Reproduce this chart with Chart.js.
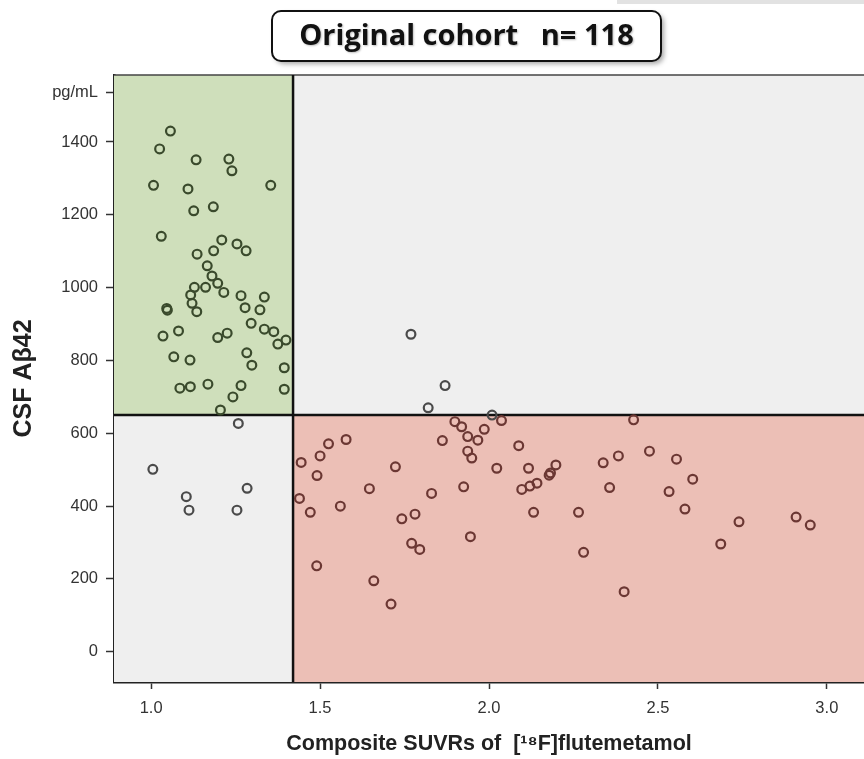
<!DOCTYPE html>
<html lang="en">
<head>
    <meta charset="UTF-8">
    <meta name="viewport" content="width=device-width, initial-scale=1.0">
    <title>Original cohort</title>
    <style>
        body {
            margin: 0;
            background: #fff;
        }
        #wrap {
            position: relative;
            width: 864px;
            height: 759px;
        }
    </style>
</head>
<body>
    <div id="wrap">
        <canvas id="cohortChart"></canvas>
    </div>

    <script src="https://cdn.jsdelivr.net/npm/chart.js"></script>
    <script>
        // cut-offs that split the plot into four quadrants
        const suvrCutoff = 1.42;
        const csfCutoff = 650;

        const xTickValues = [1.0, 1.5, 2.0, 2.5, 3.0];
        const yTickValues = [0, 200, 400, 600, 800, 1000, 1200, 1400];
        const unitTickValue = 1536; // "pg/mL" sits above the 1400 tick
        const unitLabel = 'pg/mL';

        const titleText = 'Original cohort   n= 118';
        const xTitle = 'Composite SUVRs of  [\u00B9\u2078F]flutemetamol';
        const yTitle = 'CSF A\u03B242';

        // top-left quadrant (green): low SUVR, normal CSF
        const greenSuvr = [1.057, 1.025, 1.133, 1.230, 1.239, 1.007, 1.109, 1.354, 1.126, 1.184,
            1.030, 1.209, 1.254, 1.136, 1.185, 1.281, 1.166, 1.180, 1.197, 1.128,
            1.161, 1.215, 1.117, 1.121, 1.046, 1.048, 1.135, 1.266, 1.278, 1.335,
            1.322, 1.296, 1.081, 1.035, 1.197, 1.225, 1.335, 1.363, 1.375, 1.399,
            1.067, 1.115, 1.283, 1.298, 1.394, 1.085, 1.116, 1.168, 1.266, 1.394,
            1.242, 1.205];
        const greenCsf = [1430, 1381, 1351, 1353, 1321, 1281, 1271, 1281, 1211, 1222,
            1141, 1131, 1120, 1092, 1101, 1101, 1060, 1032, 1012, 1001,
            1001, 987, 980, 957, 943, 938, 934, 978, 945, 974,
            939, 902, 881, 867, 863, 875, 886, 879, 845, 856,
            810, 801, 821, 787, 780, 724, 728, 735, 731, 721,
            700, 664];

        // bottom-left quadrant (grey): low SUVR, low CSF
        const lowLeftSuvr = [1.258, 1.005, 1.104, 1.112, 1.284, 1.254];
        const lowLeftCsf = [627, 501, 426, 389, 449, 389];

        // top-right quadrant (grey): high SUVR, normal CSF
        const highRightSuvr = [1.769, 1.870, 1.820, 2.009];
        const highRightCsf = [872, 731, 670, 650];

        // bottom-right quadrant (red): high SUVR, low CSF
        const redSuvr = [1.899, 1.919, 1.986, 1.937, 1.967, 1.862, 1.577, 1.525, 1.500, 1.444,
            1.937, 1.949, 1.723, 1.491, 1.646, 1.830, 1.925, 1.439, 1.471, 1.560,
            1.781, 1.742, 1.945, 1.771, 1.795, 1.490, 1.659, 1.710, 2.037, 2.428,
            2.088, 2.023, 2.117, 2.198, 2.178, 2.182, 2.142, 2.121, 2.097, 2.132,
            2.265, 2.280, 2.400, 2.338, 2.383, 2.357, 2.475, 2.555, 2.533, 2.603,
            2.580, 2.740, 2.686, 2.909, 2.951];
        const redCsf = [632, 618, 611, 591, 581, 580, 583, 571, 538, 520,
            551, 532, 508, 484, 448, 435, 453, 421, 383, 400,
            378, 365, 316, 298, 281, 236, 195, 131, 635, 637,
            566, 504, 504, 513, 485, 491, 463, 455, 446, 383,
            383, 273, 165, 519, 538, 451, 551, 529, 440, 474,
            392, 357, 296, 370, 348];

        function toPoints(xs, ys) {
            return xs.map((x, i) => ({ x: x, y: ys[i] }));
        }

        function pointSet(label, xs, ys, color) {
            return {
                label: label,
                data: toPoints(xs, ys),
                pointRadius: 4.4,
                pointHoverRadius: 4.4,
                pointBorderWidth: 2.2,
                pointBackgroundColor: 'rgba(0,0,0,0)',
                pointBorderColor: color,
                showLine: false
            };
        }

        // quadrant backgrounds, cut-off lines and the frame
        const quadrantPlugin = {
            id: 'quadrants',
            beforeDatasetsDraw(chart) {
                const { ctx, chartArea: a, scales: { x, y } } = chart;
                const cx = x.getPixelForValue(suvrCutoff);
                const cy = y.getPixelForValue(csfCutoff);
                ctx.save();
                ctx.fillStyle = '#efefef';
                ctx.fillRect(a.left, a.top, a.width, a.height);
                ctx.fillStyle = '#cfdfbb';
                ctx.fillRect(a.left, a.top, cx - a.left, cy - a.top);
                ctx.fillStyle = '#ecbfb6';
                ctx.fillRect(cx, cy, a.right - cx, a.bottom - cy);

                ctx.strokeStyle = '#444';
                ctx.lineWidth = 1.5;
                ctx.beginPath();
                ctx.moveTo(a.left, a.top);
                ctx.lineTo(a.right, a.top);
                ctx.stroke();

                ctx.strokeStyle = '#111';
                ctx.lineWidth = 2.5;
                ctx.beginPath();
                ctx.moveTo(cx, a.top);
                ctx.lineTo(cx, a.bottom);
                ctx.moveTo(a.left, cy);
                ctx.lineTo(a.right, cy);
                ctx.stroke();
                ctx.restore();
            }
        };

        // boxed title above the plot
        const titleBoxPlugin = {
            id: 'titleBox',
            afterDraw(chart) {
                const ctx = chart.ctx;
                ctx.save();
                // faint grey strip at the top right of the figure
                ctx.fillStyle = '#e2e2e2';
                ctx.fillRect(617, 0, 247, 4);

                const bx = 272, by = 11, bw = 389, bh = 50, r = 9;
                ctx.shadowColor = 'rgba(0,0,0,0.35)';
                ctx.shadowBlur = 5;
                ctx.shadowOffsetX = 3;
                ctx.shadowOffsetY = 3;
                ctx.beginPath();
                ctx.roundRect(bx, by, bw, bh, r);
                ctx.fillStyle = '#fff';
                ctx.fill();
                ctx.shadowColor = 'transparent';
                ctx.lineWidth = 2;
                ctx.strokeStyle = '#111';
                ctx.stroke();

                ctx.font = 'bold 29px "Open Sans", "DejaVu Sans", sans-serif';
                ctx.fillStyle = '#111';
                ctx.textAlign = 'center';
                ctx.textBaseline = 'middle';
                ctx.shadowColor = 'rgba(0,0,0,0.25)';
                ctx.shadowBlur = 2;
                ctx.shadowOffsetX = 1;
                ctx.shadowOffsetY = 1;
                ctx.fillText(titleText, bx + bw / 2, by + bh / 2 + 1);
                ctx.restore();
            }
        };

        const ctx = document.getElementById('cohortChart').getContext('2d');
        const cohortChart = new Chart(ctx, {
            type: 'scatter',
            data: {
                datasets: [
                    pointSet('Low SUVR / normal CSF', greenSuvr, greenCsf, '#3a4a2c'),
                    pointSet('Low SUVR / low CSF', lowLeftSuvr, lowLeftCsf, '#4a4a4a'),
                    pointSet('High SUVR / normal CSF', highRightSuvr, highRightCsf, '#4a4a4a'),
                    pointSet('High SUVR / low CSF', redSuvr, redCsf, '#6b3733')
                ]
            },
            options: {
                responsive: true,
                maintainAspectRatio: false,
                animation: false,
                layout: {
                    autoPadding: false, // plot runs right up to the edge
                    padding: { top: 75, right: 0, bottom: 0, left: 0 }
                },
                plugins: {
                    legend: { display: false },
                    tooltip: { enabled: false }
                },
                scales: {
                    x: {
                        type: 'linear',
                        min: 0.89,
                        max: 3.11,
                        afterBuildTicks: scale => {
                            scale.ticks = xTickValues.map(v => ({ value: v }));
                        },
                        afterFit: scale => {
                            scale.height = 77;
                            scale.paddingLeft = 0;
                            scale.paddingRight = 0;
                        },
                        ticks: {
                            padding: 10,
                            color: '#333',
                            font: { family: '"Liberation Sans", Arial, sans-serif', size: 16.5 },
                            callback: v => v.toFixed(1)
                        },
                        grid: {
                            drawOnChartArea: false,
                            tickLength: 7,
                            tickWidth: 1.5,
                            tickColor: '#333'
                        },
                        border: { color: '#222', width: 2.5 },
                        title: {
                            display: true,
                            text: xTitle,
                            color: '#222',
                            padding: { top: 0, bottom: 2 },
                            font: { family: '"Liberation Sans", Arial, sans-serif', size: 21.5, weight: 'bold' }
                        }
                    },
                    y: {
                        type: 'linear',
                        min: -83,
                        max: 1584,
                        afterBuildTicks: scale => {
                            scale.ticks = yTickValues.concat([unitTickValue]).map(v => ({ value: v }));
                        },
                        afterFit: scale => {
                            scale.width = 114;
                            scale.paddingTop = 0;
                            scale.paddingBottom = 0;
                        },
                        ticks: {
                            padding: 8,
                            color: '#333',
                            font: { family: '"Liberation Sans", Arial, sans-serif', size: 16.5 },
                            callback: v => (v === unitTickValue ? unitLabel : v)
                        },
                        grid: {
                            drawOnChartArea: false,
                            tickLength: 8,
                            tickWidth: 1.5,
                            tickColor: '#333'
                        },
                        border: { color: '#222', width: 2.5 },
                        title: {
                            display: true,
                            text: yTitle,
                            color: '#222',
                            padding: { top: 9, bottom: 0 },
                            font: { family: '"Liberation Sans", Arial, sans-serif', size: 25, weight: 'bold' }
                        }
                    }
                }
            },
            plugins: [quadrantPlugin, titleBoxPlugin]
        });
    </script>
</body>
</html>
